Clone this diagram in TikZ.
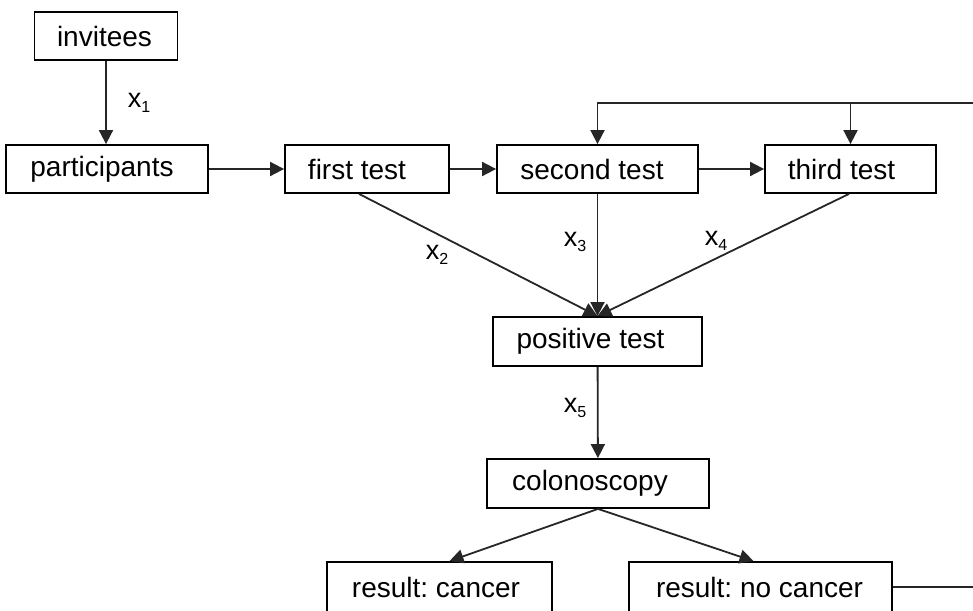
\documentclass[tikz,border=0pt]{standalone}
\usepackage{fontspec}
\setmainfont{Liberation Sans}
\usetikzlibrary{arrows.meta}
% rate label: x with a lowered index
\newcommand\xsub[1]{x\raisebox{-5pt}{\fontsize{16}{16}\selectfont #1}}
\begin{document}
\frenchspacing
\begin{tikzpicture}[x=1pt,y=-1pt,
  box/.style={draw=black,line width=1.8pt,minimum height=48pt,inner sep=0pt,
              font=\fontsize{28}{30}\selectfont},
  flow/.style={draw=black!85,line width=1.8pt,-{Triangle[length=14pt,width=14pt]}},
  lbl/.style={font=\fontsize{27}{28}\selectfont,inner sep=0pt}]
\useasboundingbox (0,0) rectangle (973,610);
\clip (0,0) rectangle (973,610);

% screening stages
\node[box,minimum width=143pt] (inv)    at (106,36)    {invitees\hspace*{3pt}};
\node[box,minimum width=202pt] (part)   at (107,169)   {participants\hspace*{10pt}};
\node[box,minimum width=164pt] (first)  at (367,169)   {first test\hspace*{20pt}};
\node[box,minimum width=201pt] (second) at (597.5,169) {second test\hspace*{11pt}};
\node[box,minimum width=171pt] (third)  at (850.5,169) {third test\hspace*{18pt}};
\node[box,minimum width=209pt,minimum height=49pt] (pos)  at (597.5,341.5) {positive test\hspace*{14pt}};
\node[box,minimum width=222pt,minimum height=49pt] (colo) at (598,483.5)   {colonoscopy\hspace*{16pt}};
\node[box,minimum width=225pt,minimum height=50pt] (cancer)   at (439.5,587) {result: cancer\hspace*{7pt}};
\node[box,minimum width=263pt,minimum height=50pt] (nocancer) at (760.5,587) {result: no cancer\hspace*{2pt}};

% flow between stages
\draw[flow] (inv.south) -- (inv.south |- part.north);
\draw[flow] (part) -- (first);
\draw[flow] (first) -- (second);
\draw[flow] (second) -- (third);
\draw[flow] ([xshift=-8pt]first.south) -- (pos.north);
\draw[flow] (second.south) -- (pos.north);
\draw[flow] ([xshift=-1.5pt]third.south) -- (pos.north);
\draw[flow] (pos) -- (colo);
\draw[flow] (colo.south) -- ([xshift=10pt]cancer.north);
\draw[flow] (colo.south) -- ([xshift=-7pt]nocancer.north);

% return path after a negative colonoscopy
\coordinate (back) at (990,103);
\draw[flow] (nocancer.east) -| (back) -| (second.north);
\draw[flow] (third.north |- back) -- (third.north);

% transition labels
\node[lbl] (l1) at (139,103) {\xsub{1}};
\node[lbl] (l2) at (437,255) {\xsub{2}};
\node[lbl] (l3) at (575,242) {\xsub{3}};
\node[lbl] (l4) at (716,241) {\xsub{4}};
\node[lbl] (l5) at (575,408) {\xsub{5}};
\end{tikzpicture}
\end{document}
